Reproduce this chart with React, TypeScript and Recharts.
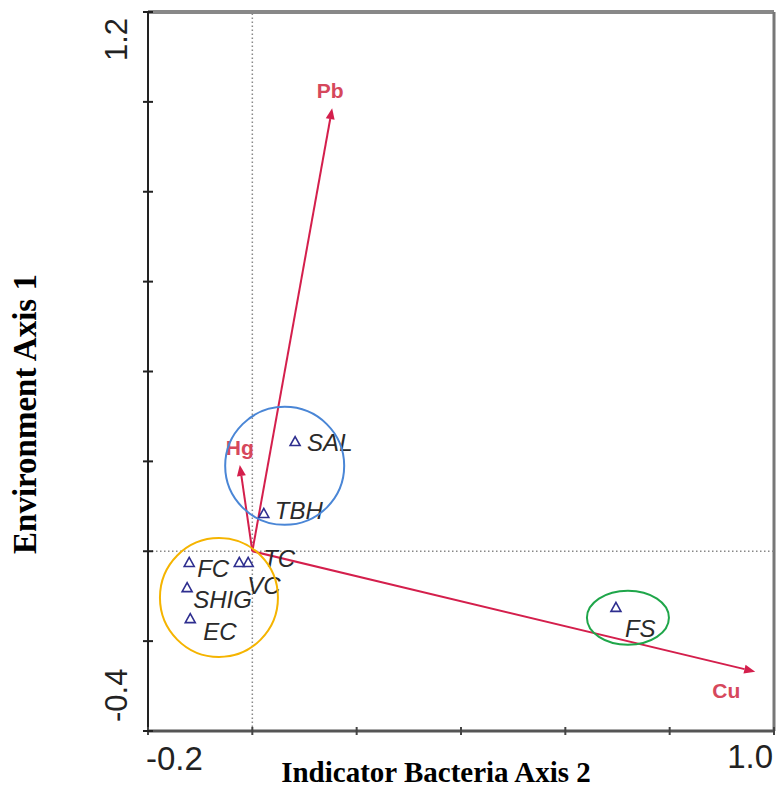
import React from "react";
import { ScatterChart, Scatter, XAxis, YAxis, ReferenceLine } from "recharts";

const xTicks = [-0.2, 0, 0.2, 0.4, 0.6, 0.8, 1.0];
const yTicks = [-0.4, -0.2, 0, 0.2, 0.4, 0.6, 0.8, 1.0, 1.2];

// bacteria scores
const bacteria = [
  { name: "SAL", x: 0.082, y: 0.243 },
  { name: "TBH", x: 0.022, y: 0.083 },
  { name: "FC", x: -0.121, y: -0.026 },
  { name: "VC", x: -0.025, y: -0.026 },
  { name: "TC", x: -0.008, y: -0.026 },
  { name: "SHIG", x: -0.125, y: -0.082 },
  { name: "EC", x: -0.119, y: -0.151 },
  { name: "FS", x: 0.697, y: -0.126 },
];

// environment vectors (arrow tips, all start at origin)
const envVectors = [
  { name: "Pb", x: 0.153, y: 0.986 },
  { name: "Hg", x: -0.024, y: 0.192 },
  { name: "Cu", x: 0.964, y: -0.268 },
];

// centres of the grouping rings
const groups = [
  { name: "blue", x: 0.062, y: 0.19 },
  { name: "orange", x: -0.064, y: -0.103 },
  { name: "green", x: 0.72, y: -0.148 },
];

// styling only
const ringStyle: Record<string, { rx: number; ry: number; stroke: string }> = {
  blue: { rx: 59.5, ry: 59, stroke: "#4a86d6" },
  orange: { rx: 59, ry: 59.5, stroke: "#f5b400" },
  green: { rx: 41, ry: 27, stroke: "#1fa64a" },
};
const labelOffset: Record<string, [number, number]> = {
  SAL: [12, 9], TBH: [11, 5], FC: [8, 14], TC: [15, 4], VC: [8, 31],
  SHIG: [6, 20], EC: [13, 21], FS: [9, 29],
};
const vecLabelOffset: Record<string, [number, number]> = {
  Pb: [-2, -10], Hg: [0, -10], Cu: [-29, 26],
};

const SANS = "'Liberation Sans', Arial, sans-serif";
const SERIF = "'Liberation Serif', 'Times New Roman', serif";
const RED = "#d41f4c";

const YTick = (p: any) => {
  const { x, y, payload } = p;
  const v = payload.value;
  let label = null;
  if (v === 1.2)
    label = (
      <text x={0} y={0} transform={`translate(${x - 21},${y + 6}) rotate(-90)`} textAnchor="end"
        fontFamily={SANS} fontSize={31} fill="#222">1.2</text>
    );
  if (v === -0.4)
    label = (
      <text x={0} y={0} transform={`translate(${x - 21},${y - 9}) rotate(-90)`} textAnchor="start"
        fontFamily={SANS} fontSize={31} fill="#222">-0.4</text>
    );
  return (
    <g>
      <line x1={x - 5} x2={x + 5} y1={y} y2={y} stroke="#222" strokeWidth={2} />
      {label}
    </g>
  );
};

const XTick = (p: any) => {
  const { x, y, payload } = p;
  const v = payload.value;
  let label = null;
  if (v === -0.2)
    label = <text x={x - 2} y={y + 39} textAnchor="start" fontFamily={SANS} fontSize={33} fill="#222">-0.2</text>;
  if (v === 1.0)
    label = <text x={x - 1} y={y + 37} textAnchor="end" fontFamily={SANS} fontSize={33} fill="#222">1.0</text>;
  return (
    <g>
      <line x1={x} x2={x} y1={y - 4} y2={y + 4} stroke="#444" strokeWidth={2} />
      {label}
    </g>
  );
};

const arrowShape = (name: string) => (p: any) => {
  const { x1, y1, x2, y2 } = p;
  const a = Math.atan2(y2 - y1, x2 - x1);
  const L = 11, W = 4.5;
  const bx = x2 - L * Math.cos(a), by = y2 - L * Math.sin(a);
  const pts = `${x2},${y2} ${bx + W * Math.sin(a)},${by - W * Math.cos(a)} ${bx - W * Math.sin(a)},${by + W * Math.cos(a)}`;
  const [dx, dy] = vecLabelOffset[name];
  return (
    <g>
      <line x1={x1} y1={y1} x2={bx} y2={by} stroke={RED} strokeWidth={2} />
      <polygon points={pts} fill={RED} />
      <text x={x2 + dx} y={y2 + dy} textAnchor="middle" fontFamily={SANS} fontWeight="bold"
        fontSize={21} fill="#d6485c">{name}</text>
    </g>
  );
};

const TriangleMark = (p: any) => {
  const { cx, cy, payload } = p;
  const [dx, dy] = labelOffset[payload.name] || [10, 8];
  return (
    <g>
      <polygon points={`${cx},${cy - 5.5} ${cx - 5},${cy + 3.5} ${cx + 5},${cy + 3.5}`}
        fill="none" stroke="#2e2e8f" strokeWidth={1.6} />
      <text x={cx + dx} y={cy + dy} fontFamily={SANS} fontStyle="italic" fontSize={24} fill="#2a2a2a">
        {payload.name}
      </text>
    </g>
  );
};

const Ring = (p: any) => {
  const { cx, cy, payload } = p;
  const s = ringStyle[payload.name];
  return <ellipse cx={cx} cy={cy} rx={s.rx} ry={s.ry} fill="none" stroke={s.stroke} strokeWidth={2} />;
};

export default function App() {
  return (
    <div style={{ position: "absolute", left: 0, top: 0, background: "#fff" }}>
      <ScatterChart width={776} height={788} margin={{ top: 12, right: 2, bottom: 56, left: 147 }}>
        <XAxis type="number" dataKey="x" domain={[-0.2, 1.0]} ticks={xTicks} allowDataOverflow
          height={1} tickSize={0} tickMargin={0} tickLine={false} interval={0}
          axisLine={{ stroke: "#555", strokeWidth: 3 }} tick={<XTick />}
          label={{ content: () => (
            <text x={436} y={782} textAnchor="middle" fontFamily={SERIF} fontWeight="bold" fontSize={29} fill="#000">
              Indicator Bacteria Axis 2
            </text>
          ) }} />
        <YAxis type="number" dataKey="y" domain={[-0.4, 1.2]} ticks={yTicks} allowDataOverflow
          width={1} tickSize={0} tickMargin={0} tickLine={false} interval={0}
          axisLine={{ stroke: "#222", strokeWidth: 2 }} tick={<YTick />}
          label={{ content: () => (
            <text x={0} y={0} transform="translate(36,414) rotate(-90)" textAnchor="middle" fontFamily={SERIF}
              fontWeight="bold" fontSize={33} fill="#000">
              Environment Axis 1
            </text>
          ) }} />
        <ReferenceLine y={1.2} stroke="#888" strokeWidth={4} />
        <ReferenceLine x={1.0} stroke="#777" strokeWidth={3} />
        <ReferenceLine x={0} stroke="#888" strokeWidth={1.5} strokeDasharray="1.5 2.5" />
        <ReferenceLine y={0} stroke="#888" strokeWidth={1.5} strokeDasharray="1.5 2.5" />
        {envVectors.map((v) => (
          <ReferenceLine key={v.name} segment={[{ x: 0, y: 0 }, { x: v.x, y: v.y }]} shape={arrowShape(v.name)} />
        ))}
        <Scatter data={bacteria} shape={<TriangleMark />} isAnimationActive={false} />
        <Scatter data={groups} shape={<Ring />} isAnimationActive={false} />
      </ScatterChart>
    </div>
  );
}
